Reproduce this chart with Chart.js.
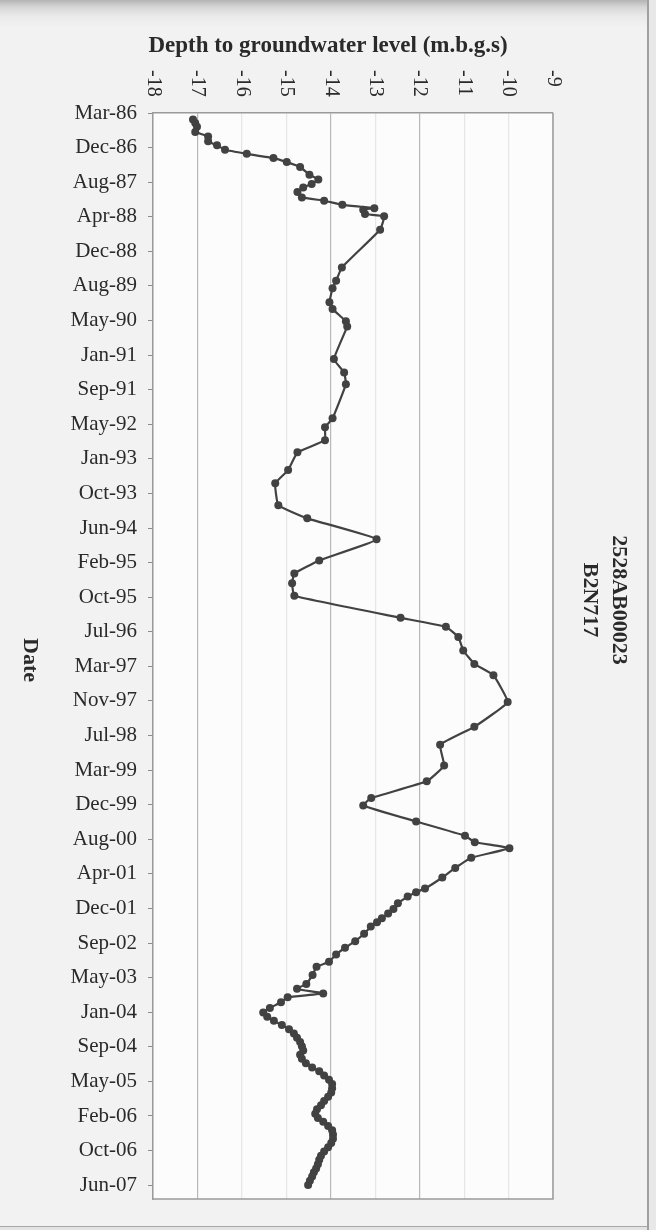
<!DOCTYPE html>
<html>
<head>
<meta charset="utf-8">
<title>2528AB00023 B2N717</title>
<script src="https://cdn.jsdelivr.net/npm/chart.js@4.4.1/dist/chart.umd.min.js"></script>
<style>
  html, body { margin: 0; padding: 0; }
  body { width: 656px; height: 1230px; overflow: hidden; background: #f1f1f1; }
  #page {
    position: relative; width: 656px; height: 1230px;
    background: linear-gradient(#b3b3b3 0px, #d6d6d6 7px, #eaeaea 16px, #f2f2f2 28px);
  }
  #edgeRight { position: absolute; left: 647px; top: 0; width: 7px; height: 1230px; background: #e8e8e8; border-left: 2px solid #a0a0a0; }
  #edgeBottom { position: absolute; left: 0; top: 1226px; width: 647px; height: 4px; background: #e3e3e3; border-top: 1px solid #a8a8a8; }
  canvas { position: absolute; left: 0; top: 0; }
</style>
</head>
<body>
<div id="page">
  <div id="edgeRight"></div>
  <div id="edgeBottom"></div>
  <canvas id="levelChart" width="656" height="1230"></canvas>
</div>
<script>
// Borehole 2528AB00023 (B2N717) - depth to groundwater level

const chartTitle = 'Depth to groundwater level (m.b.g.s)';
const dateAxisTitle = 'Date';
const siteLabels = ['2528AB00023', 'B2N717'];

// date axis: Excel date axis, one major unit = 250 days from 28 Mar 1986
const dateTicks = [
  'Mar-86', 'Dec-86', 'Aug-87', 'Apr-88', 'Dec-88', 'Aug-89', 'May-90', 'Jan-91',
  'Sep-91', 'May-92', 'Jan-93', 'Oct-93', 'Jun-94', 'Feb-95', 'Oct-95', 'Jul-96',
  'Mar-97', 'Nov-97', 'Jul-98', 'Mar-99', 'Dec-99', 'Aug-00', 'Apr-01', 'Dec-01',
  'Sep-02', 'May-03', 'Jan-04', 'Sep-04', 'May-05', 'Feb-06', 'Oct-06', 'Jun-07',
];
const axisStart = Date.UTC(1986, 2, 28);
const axisStepDays = 250;
const axisEndDays = 7850;

// depth axis
const depthMin = -18;
const depthMax = -9;

const obsDates = [
  '1986-05-14', '1986-06-08', '1986-07-06', '1986-08-12', '1986-09-13', '1986-10-19', '1986-11-17', '1986-12-19',
  '1987-01-17', '1987-02-17', '1987-03-18', '1987-04-22', '1987-06-17', '1987-07-22', '1987-08-23', '1987-09-17',
  '1987-10-20', '1987-11-28', '1987-12-22', '1988-01-21', '1988-02-14', '1988-02-26', '1988-03-27', '1988-04-13',
  '1988-07-19', '1989-04-17', '1989-07-23', '1989-09-15', '1989-12-25', '1990-02-12', '1990-05-12', '1990-06-18',
  '1991-02-09', '1991-05-16', '1991-08-09', '1992-04-12', '1992-06-16', '1992-09-17', '1992-12-14', '1993-04-21',
  '1993-07-26', '1994-01-01', '1994-04-05', '1994-09-03', '1995-02-03', '1995-05-08', '1995-07-19', '1995-10-17',
  '1996-03-24', '1996-05-28', '1996-08-09', '1996-11-15', '1997-02-20', '1997-05-13', '1997-11-23', '1998-05-21',
  '1998-09-27', '1999-02-25', '1999-06-19', '1999-10-18', '1999-12-10', '2000-04-04', '2000-07-16', '2000-09-01',
  '2000-10-14', '2000-12-22', '2001-03-06', '2001-05-14', '2001-08-02', '2001-08-28', '2001-09-29', '2001-11-17',
  '2001-12-27', '2002-01-29', '2002-03-05', '2002-04-03', '2002-05-04', '2002-06-25', '2002-08-17', '2002-10-04',
  '2002-11-22', '2003-01-13', '2003-02-19', '2003-04-18', '2003-06-22', '2003-07-28', '2003-08-30', '2003-09-27',
  '2003-11-02', '2003-12-13',
  '2004-01-15', '2004-02-15', '2004-03-15', '2004-04-15', '2004-05-15', '2004-06-15', '2004-07-15', '2004-08-15',
  '2004-09-15', '2004-10-15', '2004-11-15', '2004-12-15', '2005-01-15', '2005-02-15', '2005-03-15', '2005-04-15',
  '2005-05-15', '2005-06-15', '2005-07-15', '2005-08-15', '2005-09-15', '2005-10-15', '2005-11-15', '2005-12-15',
  '2006-01-15', '2006-02-15', '2006-03-15', '2006-04-15', '2006-05-15', '2006-06-15', '2006-07-15', '2006-08-15',
  '2006-09-15', '2006-10-15', '2006-11-15', '2006-12-15', '2007-01-15', '2007-02-15', '2007-03-15', '2007-04-15',
  '2007-05-15', '2007-06-15',
];
const depthMbgs = [
  -17.10, -17.05, -17.01, -17.05, -16.76, -16.76, -16.56, -16.38,
  -15.89, -15.29, -14.99, -14.69, -14.48, -14.28, -14.43, -14.62,
  -14.75, -14.65, -14.15, -13.74, -13.02, -13.27, -13.23, -12.80,
  -12.89, -13.75, -13.88, -13.96, -14.03, -13.96, -13.66, -13.63,
  -13.93, -13.70, -13.66, -13.96, -14.13, -14.13, -14.75, -14.96,
  -15.25, -15.18, -14.53, -12.97, -14.26, -14.82, -14.87, -14.82,
  -12.43, -11.41, -11.13, -11.02, -10.77, -10.34, -10.02, -10.77,
  -11.54, -11.45, -11.84, -13.09, -13.27, -12.08, -10.98, -10.76,
  -9.98, -10.84, -11.20, -11.49, -11.88, -12.08, -12.27, -12.49,
  -12.59, -12.71, -12.85, -12.96, -13.10, -13.25, -13.45, -13.68,
  -13.88, -14.04, -14.32, -14.41, -14.55, -14.76, -14.17, -14.97,
  -15.12, -15.37,
  -15.52, -15.43, -15.28, -15.10, -14.94, -14.83, -14.76, -14.69,
  -14.65, -14.62, -14.69, -14.65, -14.56, -14.42, -14.26, -14.15,
  -14.04, -13.97, -13.97, -13.99, -14.06, -14.15, -14.22, -14.31,
  -14.35, -14.29, -14.17, -14.06, -13.97, -13.95, -13.95, -13.99,
  -14.06, -14.15, -14.22, -14.26, -14.29, -14.33, -14.38, -14.42,
  -14.47, -14.51,
];

// gridlines that come out darker on the original
const strongGrid = [-17, -14, -12];

const textColour = '#2a2a2a';
const lineColour = '#424242';
const serif = '"Liberation Serif", "Times New Roman", serif';

function dayOffset(s) {
  const [y, m, d] = s.split('-').map(Number);
  return (Date.UTC(y, m - 1, d) - axisStart) / 86400000;
}

const points = obsDates.map((d, i) => ({ x: depthMbgs[i], y: dayOffset(d) }));

// draws the rotated texts, title and plot frame
const decor = {
  id: 'decor',
  beforeDraw(chart) {
    const { ctx, chartArea: a } = chart;
    ctx.save();
    ctx.fillStyle = '#fcfcfc';
    ctx.fillRect(a.left, a.top, a.right - a.left, a.bottom - a.top);
    ctx.restore();
  },
  afterDraw(chart) {
    const { ctx, chartArea: a } = chart;
    const xs = chart.scales.x;
    ctx.save();
    ctx.fillStyle = textColour;

    ctx.font = 'bold 23px ' + serif;
    ctx.textAlign = 'center';
    ctx.textBaseline = 'alphabetic';
    ctx.fillText(chartTitle, 328, 52);

    // depth tick labels read top to bottom
    ctx.font = '20px ' + serif;
    ctx.textAlign = 'left';
    ctx.textBaseline = 'middle';
    xs.ticks.forEach((t) => {
      ctx.save();
      ctx.translate(xs.getPixelForValue(t.value), 70);
      ctx.rotate(Math.PI / 2);
      ctx.fillText(String(t.value), 0, 0);
      ctx.restore();
    });

    ctx.font = 'bold 22px ' + serif;
    ctx.textAlign = 'center';
    ctx.save();
    ctx.translate(30, 660);
    ctx.rotate(Math.PI / 2);
    ctx.fillText(dateAxisTitle, 0, 0);
    ctx.restore();

    siteLabels.forEach((txt, i) => {
      ctx.save();
      ctx.translate(619 - i * 29, 600);
      ctx.rotate(Math.PI / 2);
      ctx.fillText(txt, 0, 0);
      ctx.restore();
    });

    ctx.strokeStyle = '#9a9a9a';
    ctx.lineWidth = 1.5;
    ctx.beginPath();
    ctx.moveTo(a.right, a.top);
    ctx.lineTo(a.right, a.bottom);
    ctx.lineTo(a.left, a.bottom);
    ctx.stroke();
    ctx.restore();
  },
};

new Chart(document.getElementById('levelChart'), {
  type: 'scatter',
  data: {
    datasets: [{
      label: 'Depth to groundwater level',
      data: points,
      showLine: true,
      borderColor: lineColour,
      borderWidth: 2.2,
      tension: 0.1,
      pointRadius: 4,
      pointBorderWidth: 0,
      pointBackgroundColor: lineColour,
    }],
  },
  options: {
    responsive: false,
    animation: false,
    devicePixelRatio: 1,
    layout: { padding: { left: 0, top: 0, right: 103, bottom: 31 } },
    plugins: {
      legend: { display: false },
      tooltip: { enabled: false },
    },
    scales: {
      x: {
        type: 'linear',
        position: 'top',
        min: depthMin,
        max: depthMax,
        ticks: { stepSize: 1, display: false },
        grid: {
          drawTicks: false,
          lineWidth: 1.2,
          color: (c) => (c.tick && strongGrid.includes(c.tick.value) ? '#b8b8b8' : '#e6e6e6'),
        },
        border: { color: '#9a9a9a', width: 1.5 },
        afterFit: (scale) => { scale.height = 113; },
      },
      y: {
        type: 'linear',
        reverse: true,
        min: 0,
        max: axisEndDays,
        afterBuildTicks: (scale) => {
          scale.ticks = dateTicks.map((_, i) => ({ value: i * axisStepDays }));
        },
        afterFit: (scale) => { scale.width = 153; },
        ticks: {
          autoSkip: false,
          padding: 11,
          color: textColour,
          font: { family: serif, size: 21 },
          callback: (value, index) => dateTicks[index],
        },
        grid: { drawOnChartArea: false, tickLength: 5, tickColor: '#8a8a8a' },
        border: { color: '#9a9a9a', width: 1.5 },
      },
    },
  },
  plugins: [decor],
});
</script>
</body>
</html>
